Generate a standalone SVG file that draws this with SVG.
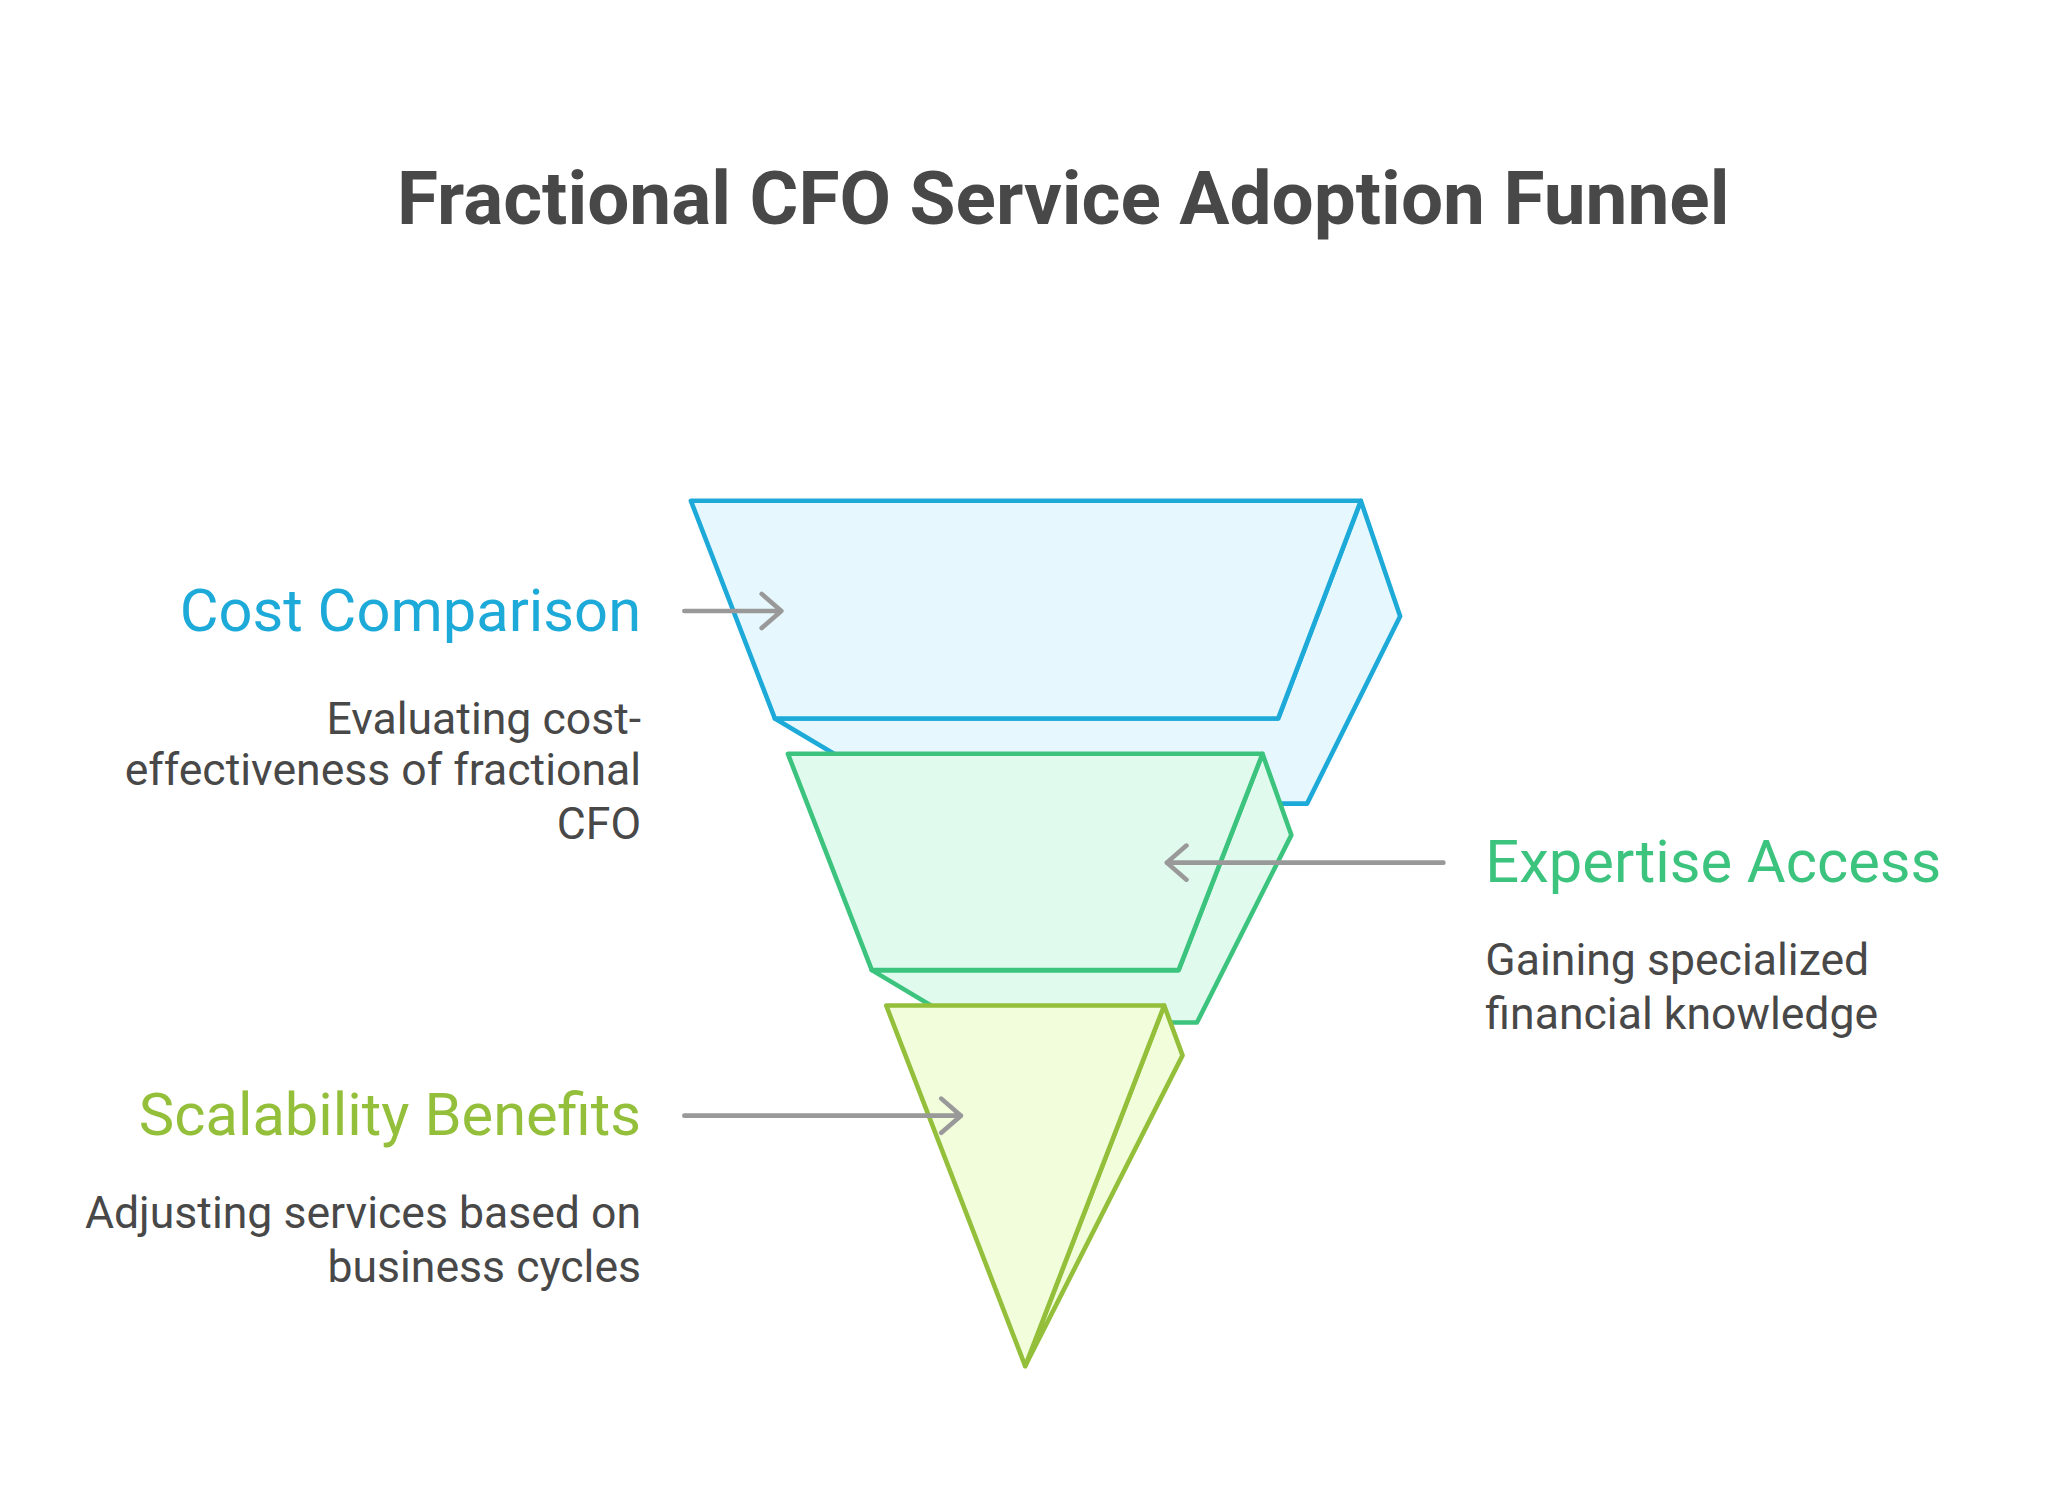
<svg xmlns="http://www.w3.org/2000/svg" width="2052" height="1509" viewBox="0 0 2052 1509">
<style>
.t{font-family:Roboto,"Liberation Sans",sans-serif}
.title{font-size:57px;font-weight:bold;fill:#484848}
.lab{font-size:45.5px}
.desc{font-size:34px;fill:#484848}
.s{stroke-width:3.5;stroke-linejoin:round;stroke-linecap:round}
.arr{stroke:#999;stroke-width:3.5;fill:none;stroke-linecap:round;stroke-linejoin:round}
</style>
<rect width="2052" height="1509" fill="#fff"/>
<g transform="scale(1.311)">
<text class="t title" x="811" y="171" text-anchor="middle">Fractional CFO Service Adoption Funnel</text>
<g id="cost">
<polygon class="s" points="591,548 700,613 997,613 1068,470 1038,382 975,548" fill="#e6f7fd" stroke="#1eaad8"/>
<polygon class="s" points="527,382 1038,382 975,548 591,548" fill="#e6f7fd" stroke="#1eaad8"/>
<text class="t lab" x="489" y="481" text-anchor="end" fill="#1eaad8">Cost Comparison</text>
<text class="t desc" text-anchor="end"><tspan x="489" y="560">Evaluating cost-</tspan><tspan x="489" y="599">effectiveness of fractional</tspan><tspan x="489" y="640">CFO</tspan></text>
</g>
<g id="expertise">
<polygon class="s" points="665,740 732,780 913,780 985,637 963,575 899,740" fill="#e0fbee" stroke="#3cc47e"/>
<polygon class="s" points="601,575 963,575 899,740 665,740" fill="#e0fbee" stroke="#3cc47e"/>
<text class="t lab" x="1133" y="673" fill="#3cc47e">Expertise Access</text>
<text class="t desc"><tspan x="1133" y="744">Gaining specialized</tspan><tspan x="1133" y="785">financial knowledge</tspan></text>
</g>
<g id="scalability">
<polygon class="s" points="888,767 902,805 782,1042" fill="#f1fddb" stroke="#93bf3a"/>
<polygon class="s" points="676,767 888,767 782,1042" fill="#f1fddb" stroke="#93bf3a"/>
<text class="t lab" x="489" y="866" text-anchor="end" fill="#93bf3a">Scalability Benefits</text>
<text class="t desc" text-anchor="end"><tspan x="489" y="937">Adjusting services based on</tspan><tspan x="489" y="978">business cycles</tspan></text>
</g>
<g id="connectors">
<path class="arr" d="M522,466H596M581,453L596,466L581,479"/>
<path class="arr" d="M1101,658H890M905,645L890,658L905,671"/>
<path class="arr" d="M522,851H733M718,838L733,851L718,864"/>
</g>
</g>
</svg>
